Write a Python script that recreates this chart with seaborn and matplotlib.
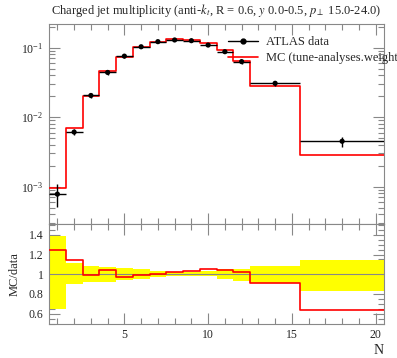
import numpy as np
import pandas as pd
import matplotlib
matplotlib.use("Agg")
import matplotlib.pyplot as plt
import seaborn as sns
from matplotlib.ticker import LogLocator, MultipleLocator, NullFormatter

# Estilo
sns.set_style("ticks")
plt.rcParams['font.family'] = ['Liberation Serif', 'DejaVu Serif']
plt.rcParams['mathtext.fontset'] = 'stix'
plt.rcParams['font.size'] = 9

# Bins (bordas) em N
bin_edges = [0.5, 1.5, 2.5, 3.5, 4.5, 5.5, 6.5, 7.5, 8.5, 9.5, 10.5, 11.5, 12.5, 15.5, 20.5]
bin_centers = [1, 2, 3, 4, 5, 6, 7, 8, 9, 10, 11, 12, 14, 18]

# ATLAS data
data_vals = [7.8e-4, 6.1e-3, 0.0205, 0.044, 0.0755, 0.103, 0.122, 0.129, 0.126,
             0.109, 0.0875, 0.063, 0.0307, 4.5e-3]
# incerteza relativa (banda amarela)
rel_up = [1.39, 1.115, 1.08, 1.07, 1.065, 1.05, 1.035, 1.025, 1.025, 1.03, 1.05, 1.058, 1.085, 1.14]
rel_down = [0.645, 0.897, 0.92, 0.925, 0.942, 0.953, 0.97, 0.98, 0.982, 0.978, 0.956, 0.936, 0.915, 0.83]

# MC
mc_vals = [9.7e-4, 6.98e-3, 0.0204, 0.046, 0.0735, 0.1025, 0.1226, 0.1318, 0.1304,
           0.1149, 0.0913, 0.0643, 0.0280, 2.85e-3]

edges = np.array(bin_edges)
data = np.array(data_vals)
mc = np.array(mc_vals)
up = np.array(rel_up)
down = np.array(rel_down)
ratio = mc / data

df_steps = pd.DataFrame({'N': edges, 'mc': np.append(mc, mc[-1]),
                         'ratio': np.append(ratio, ratio[-1]),
                         'up': np.append(up, up[-1]), 'down': np.append(down, down[-1])})
df_pts = pd.DataFrame({'N': bin_centers, 'y': data})

W, H = 397, 358
fig = plt.figure(figsize=(W / 100, H / 100), dpi=100)
ax = fig.add_axes([49 / W, (H - 224) / H, 335 / W, 200 / H])
axr = fig.add_axes([49 / W, (H - 323.5) / H, 335 / W, 99.5 / H])

RED = '#ff0000'

# Painel principal
sns.lineplot(data=df_steps, x='N', y='mc', drawstyle='steps-post', color=RED,
             linewidth=1.2, ax=ax, label='MC (tune-analyses.weight', zorder=3)
xerr_lo = np.array(bin_centers) - edges[:-1]
xerr_hi = edges[1:] - np.array(bin_centers)
ax.errorbar(bin_centers, data, xerr=[xerr_lo, xerr_hi],
            yerr=[data - data * down, data * up - data],
            fmt='none', ecolor='black', elinewidth=1.0, zorder=4)
sns.scatterplot(data=df_pts, x='N', y='y', color='black', s=14, edgecolor='none',
                ax=ax, zorder=5)
ax.set_yscale('log')
ax.set_xlim(0.5, 20.5)
ax.set_ylim(2.9e-4, 0.219)
ax.set_xlabel('')
ax.set_ylabel('')
ax.set_title(r'Charged jet multiplicity (anti-$k_t$, R = 0.6, $y$ 0.0-0.5, $p_\perp$ 15.0-24.0)',
             fontsize=9, pad=7)

# legenda
from matplotlib.lines import Line2D
h_data = Line2D([], [], color='black', marker='o', markersize=3.5, linewidth=1.0)
h_mc = Line2D([], [], color=RED, linewidth=1.2)
ax.legend([h_data, h_mc], ['ATLAS data', 'MC (tune-analyses.weight'],
          loc='upper left', bbox_to_anchor=(0.52, 0.965), frameon=False,
          handlelength=2.4, handletextpad=0.6, labelspacing=0.35, fontsize=9,
          borderaxespad=0)

# Painel de razão
axr.fill_between(df_steps['N'], df_steps['down'], df_steps['up'], step='post',
                 color='#ffff00', linewidth=0, zorder=1)
axr.axhline(1.0, color='#888888', linewidth=0.8, zorder=2)
sns.lineplot(data=df_steps, x='N', y='ratio', drawstyle='steps-post', color=RED,
             linewidth=1.2, ax=axr, zorder=3)
axr.set_xlim(0.5, 20.5)
axr.set_ylim(0.5, 1.51)
axr.set_ylabel('MC/data', fontsize=9, labelpad=6)
axr.set_xlabel('N', loc='right', fontsize=10, labelpad=2)
axr.set_yticks([0.6, 0.8, 1.0, 1.2, 1.4])
axr.set_yticklabels(['0.6', '0.8', '1', '1.2', '1.4'])
axr.yaxis.set_minor_locator(MultipleLocator(0.05))

for a in (ax, axr):
    a.xaxis.set_major_locator(MultipleLocator(5))
    a.xaxis.set_minor_locator(MultipleLocator(1))
    a.tick_params(which='both', direction='in', top=True, right=True,
                  color='#888888', labelsize=8.5, pad=4)
    a.tick_params(which='major', length=8, width=0.8)
    a.tick_params(which='minor', length=4, width=0.8)
    for s in a.spines.values():
        s.set_color('#888888')
        s.set_linewidth(0.8)

ax.yaxis.set_major_locator(LogLocator(base=10))
ax.yaxis.set_minor_locator(LogLocator(base=10, subs=np.arange(2, 10)))
ax.yaxis.set_minor_formatter(NullFormatter())
ax.tick_params(axis='x', labelbottom=False)

fig.savefig('out.png', dpi=100)
